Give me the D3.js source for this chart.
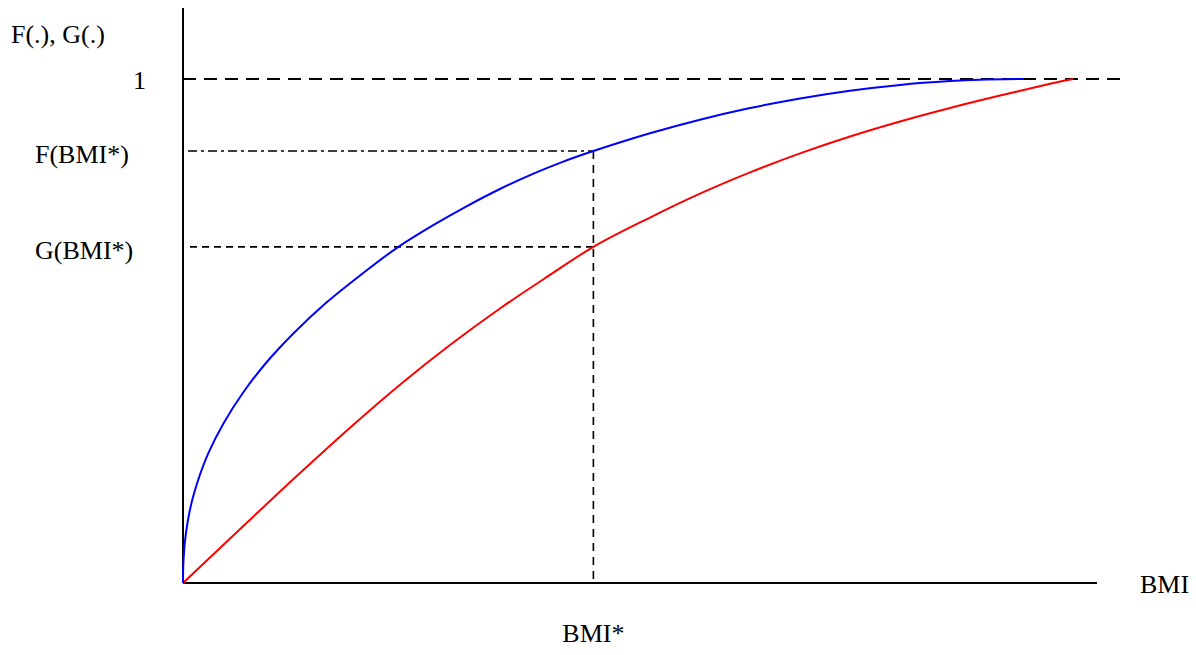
<!DOCTYPE html>
<html>
<head>
<meta charset="utf-8">
<script src="https://cdn.jsdelivr.net/npm/d3@7"></script>
<style>
  html, body { margin: 0; padding: 0; background: #fff; }
  svg { display: block; }
  text { font-family: "Liberation Serif", "Times New Roman", serif; font-size: 26px; fill: #000; }
</style>
</head>
<body>
<svg id="chart" width="1196" height="655"></svg>
<script>
// ---- data (BMI in arbitrary units, CDF values 0..1) ----
const blueBMI = [0, 0.0087, 0.041, 0.196, 0.489, 0.933, 1.543, 2.785, 4.442, 6.548, 9.10, 12.13, 15.66, 19.71, 23.41, 27.24, 31.07, 34.90, 38.29, 41.47, 44.9, 51.09, 56.56, 62.04, 67.51, 72.98, 78.45, 83.92, 87.2, 91.9];
const blueF   = [0, 0.0198, 0.0397, 0.0794, 0.119, 0.159, 0.198, 0.258, 0.317, 0.377, 0.437, 0.496, 0.556, 0.615, 0.665, 0.7085, 0.7479, 0.7837, 0.8117, 0.8351, 0.857, 0.8923, 0.9192, 0.9423, 0.9615, 0.9768, 0.9883, 0.9958, 0.9986, 1.0];

const redBMI = [0, 7.33, 12.80, 18.27, 23.74, 29.21, 34.68, 40.15, 44.9, 51.09, 56.56, 62.04, 67.51, 72.98, 78.45, 83.92, 89.39, 94.86, 97.37];
const redG   = [0, 0.1256, 0.2181, 0.3081, 0.3935, 0.4723, 0.5447, 0.6112, 0.667, 0.7251, 0.7725, 0.8147, 0.8524, 0.8859, 0.9157, 0.9425, 0.9671, 0.9904, 1.0];

const bmiStar = 44.9;
const fStar = 0.857;
const gStar = 0.667;
const yLabels = ["1", "F(BMI*)", "G(BMI*)"];
const yLabelValues = [1, fStar, gStar];
const yAxisTitle = "F(.), G(.)";
const xAxisTitle = "BMI";
const xStarLabel = "BMI*";

// ---- scales ----
const svg = d3.select("#chart");
const x = d3.scaleLinear().domain([0, 100]).range([183, 1097]);
const y = d3.scaleLinear().domain([0, 1]).range([583, 79]);

// ---- axes (plain lines) ----
svg.append("line").attr("x1", x(0)).attr("x2", x(0)).attr("y1", 8).attr("y2", y(0))
  .attr("stroke", "#000").attr("stroke-width", 2);
svg.append("line").attr("x1", x(0)).attr("x2", x(100)).attr("y1", y(0)).attr("y2", y(0))
  .attr("stroke", "#000").attr("stroke-width", 2);

// ---- reference lines ----
svg.append("line").attr("x1", x(0)).attr("x2", 1120).attr("y1", y(1)).attr("y2", y(1))
  .attr("stroke", "#000").attr("stroke-width", 2).attr("stroke-dasharray", "13,8");
svg.append("line").attr("x1", x(0) + 5).attr("x2", x(bmiStar)).attr("y1", y(fStar)).attr("y2", y(fStar))
  .attr("stroke", "#000").attr("stroke-width", 1.6).attr("stroke-dasharray", "9,4,3,4");
svg.append("line").attr("x1", x(0) + 7).attr("x2", x(bmiStar)).attr("y1", y(gStar)).attr("y2", y(gStar))
  .attr("stroke", "#000").attr("stroke-width", 1.6).attr("stroke-dasharray", "7,5");
svg.append("line").attr("x1", x(bmiStar)).attr("x2", x(bmiStar)).attr("y1", y(fStar)).attr("y2", y(0))
  .attr("stroke", "#000").attr("stroke-width", 1.6).attr("stroke-dasharray", "8,6");

// ---- curves ----
const line = d3.line().x(d => x(d[0])).y(d => y(d[1])).curve(d3.curveCatmullRom.alpha(0.5));
svg.append("path").datum(redBMI.map((b, i) => [b, redG[i]]))
  .attr("d", line).attr("fill", "none").attr("stroke", "#ff0000").attr("stroke-width", 2);
svg.append("path").datum(blueBMI.map((b, i) => [b, blueF[i]]))
  .attr("d", line).attr("fill", "none").attr("stroke", "#0000ff").attr("stroke-width", 2);

// ---- labels ----
svg.append("text").attr("x", 11).attr("y", 43).text(yAxisTitle);
const labelX = [133, 35, 35];
const labelDy = [10, 12, 12];
yLabels.forEach((t, i) => {
  svg.append("text").attr("x", labelX[i]).attr("y", y(yLabelValues[i]) + labelDy[i]).text(t);
});
svg.append("text").attr("x", 1140).attr("y", 593).text(xAxisTitle);
svg.append("text").attr("x", x(bmiStar)).attr("y", 642).attr("text-anchor", "middle").text(xStarLabel);
</script>
</body>
</html>
